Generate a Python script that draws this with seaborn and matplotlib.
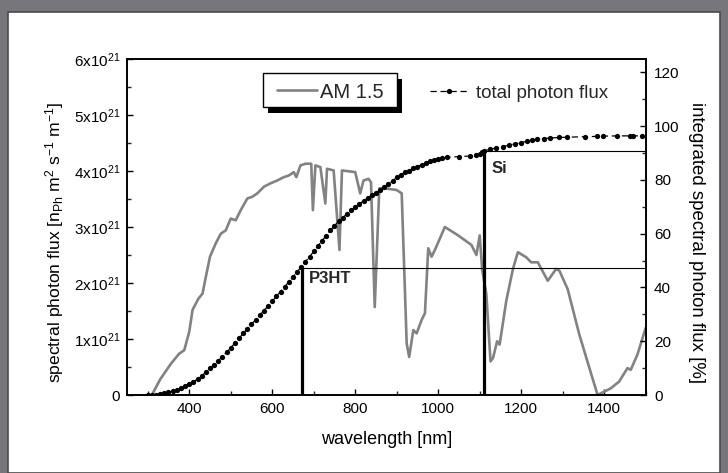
import numpy as np
import pandas as pd
import matplotlib
matplotlib.use("Agg")
import matplotlib.pyplot as plt
import seaborn as sns
from matplotlib.patches import Rectangle
from matplotlib.ticker import FixedLocator, MultipleLocator

# ---------------- data ----------------
am_wl = [310, 330, 356, 376, 388, 400, 408, 422, 432, 440, 450, 464, 476, 488, 500, 512,
         524, 540, 552, 564, 580, 596, 612, 628, 640, 652, 658, 668, 680, 694, 698, 704,
         716, 728, 732, 748, 762, 768, 800, 812, 820, 832, 838, 847, 858, 872, 900, 912,
         924, 930, 940, 948, 960, 968, 976, 984, 992, 1016, 1048, 1080, 1092, 1100, 1106,
         1116, 1126, 1132, 1142, 1148, 1164, 1180, 1192, 1212, 1224, 1240, 1264, 1284,
         1292, 1312, 1340, 1384, 1392, 1416, 1436, 1456, 1464, 1480, 1500]
am_flux = [0.0, 0.28, 0.56, 0.74, 0.80, 1.13, 1.52, 1.72, 1.81, 2.11, 2.47, 2.71, 2.88, 2.94,
           3.15, 3.12, 3.30, 3.51, 3.54, 3.60, 3.72, 3.78, 3.83, 3.89, 3.92, 3.98, 3.89,
           4.10, 4.13, 4.13, 3.30, 4.10, 4.07, 3.42, 4.04, 4.01, 2.59, 4.01, 3.98, 3.60,
           3.83, 3.86, 3.80, 1.57, 3.69, 3.69, 3.66, 3.60, 0.92, 0.68, 1.16, 1.10, 1.34,
           1.46, 2.62, 2.47, 2.59, 3.00, 2.85, 2.68, 2.50, 2.85, 2.23, 1.80, 0.60, 0.66,
           0.96, 0.90, 1.68, 2.25, 2.55, 2.46, 2.37, 2.37, 2.04, 2.25, 2.22, 1.89, 1.08,
           0.00, 0.03, 0.12, 0.24, 0.48, 0.45, 0.72, 1.20]  # units of 1e21

cum_wl = [300, 310, 320, 330, 340, 350, 360, 370, 380, 390, 400, 410, 420, 430, 440, 450,
          460, 470, 480, 490, 500, 510, 520, 530, 540, 550, 560, 570, 580, 590, 600, 610,
          620, 630, 640, 650, 660, 670, 680, 690, 700, 710, 720, 730, 740, 750, 760, 770,
          780, 790, 800, 810, 820, 830, 840, 850, 860, 870, 880, 890, 900, 910, 920, 930,
          940, 950, 960, 970, 980, 990, 1000, 1010, 1020, 1050, 1076, 1092, 1100, 1106,
          1110, 1125, 1140, 1156, 1170, 1185, 1200, 1214, 1226, 1238, 1255, 1269, 1290,
          1310, 1354, 1383, 1397, 1431, 1462, 1469, 1490]
cum_pct = [0.0, 0.05, 0.15, 0.35, 0.6, 1.0, 1.4, 1.9, 2.5, 3.2, 4.0, 4.9, 5.9, 7.1, 8.5, 9.9,
           11.3, 12.8, 14.3, 15.9, 17.6, 19.3, 21.1, 22.9, 24.6, 26.3, 28.0, 29.7, 31.4, 33.1,
           34.9, 36.7, 38.5, 40.3, 42.1, 43.9, 45.8, 47.7, 49.6, 51.5, 53.4, 55.4, 57.4, 59.3,
           61.2, 63.0, 64.6, 66.0, 67.4, 68.7, 70.0, 71.1, 72.2, 73.3, 74.4, 75.2, 76.3, 77.4,
           78.5, 79.6, 81.0, 82.0, 82.8, 83.5, 84.3, 85.0, 85.7, 86.3, 86.9, 87.5, 87.8, 88.1,
           88.4, 88.7, 88.9, 89.3, 89.7, 90.4, 90.8, 91.4, 91.9, 92.4, 92.9, 93.4, 93.9, 94.4,
           94.8, 95.1, 95.4, 95.6, 95.8, 95.9, 96.1, 96.2, 96.3, 96.4, 96.4, 96.4, 96.4]

left_ticks = [0, 1, 2, 3, 4, 5, 6]
left_tick_labels = ["0", r"$1\mathrm{x}10^{21}$", r"$2\mathrm{x}10^{21}$", r"$3\mathrm{x}10^{21}$",
                    r"$4\mathrm{x}10^{21}$", r"$5\mathrm{x}10^{21}$", r"$6\mathrm{x}10^{21}$"]
right_ticks = [0, 20, 40, 60, 80, 100, 120]
x_ticks = [400, 600, 800, 1000, 1200, 1400]

p3ht_edge, p3ht_pct = 672, 47.1
si_edge, si_pct = 1111, 90.8

# ---------------- style ----------------
sns.set_theme(style="white")
plt.rcParams['font.family'] = ['Liberation Sans', 'DejaVu Sans']
plt.rcParams['mathtext.fontset'] = 'custom'
plt.rcParams['mathtext.rm'] = 'Liberation Sans'
plt.rcParams['mathtext.it'] = 'Liberation Sans:italic'
plt.rcParams['mathtext.bf'] = 'Liberation Sans:bold'

W, H = 728, 473
fig = plt.figure(figsize=(W / 100, H / 100), dpi=100, facecolor='#77777b')
fig.patches.append(Rectangle((8 / W, 0), (720 - 8) / W, (H - 12) / H, transform=fig.transFigure,
                             facecolor='white', edgecolor='#4a4a4a', lw=1.2, zorder=-5))

ax = fig.add_axes([127 / W, 1 - 395 / H, (645.7 - 127) / W, (395 - 59) / H])
ax2 = ax.twinx()
ax.set_facecolor('white')
ax2.set_facecolor('none')

df_am = pd.DataFrame({'wl': am_wl, 'flux': am_flux})
df_cum = pd.DataFrame({'wl': cum_wl, 'pct': cum_pct})

sns.lineplot(data=df_am, x='wl', y='flux', ax=ax, color='#828282', lw=1.9,
             estimator=None, sort=False, label='AM 1.5')
sns.lineplot(data=df_cum, x='wl', y='pct', ax=ax2, color='black', lw=0.9,
             linestyle=(0, (5, 3)), marker='o', markersize=3.8, markeredgewidth=0,
             markeredgecolor='black', markerfacecolor='black',
             estimator=None, sort=False, label='total photon flux')
for a in (ax, ax2):
    lg = a.get_legend()
    if lg is not None:
        lg.remove()

# threshold lines
ax2.plot([p3ht_edge, p3ht_edge], [0, p3ht_pct], color='black', lw=2.3, solid_capstyle='butt')
ax2.plot([p3ht_edge, 1500], [p3ht_pct, p3ht_pct], color='black', lw=0.8)
ax2.plot([si_edge, si_edge], [0, si_pct], color='black', lw=2.3, solid_capstyle='butt')
ax2.plot([si_edge, 1500], [si_pct, si_pct], color='black', lw=0.8)
ax2.text(689, 46.2, 'P3HT', fontsize=12, fontweight='bold', va='top', ha='left')
ax2.text(1128, 87.2, 'Si', fontsize=12, fontweight='bold', va='top', ha='left')

# axes limits & ticks
ax.set_xlim(250, 1500)
ax.set_ylim(0, 6)
ax2.set_ylim(0, 125)
ax.xaxis.set_major_locator(FixedLocator(x_ticks))
ax.xaxis.set_minor_locator(MultipleLocator(100))
ax.yaxis.set_major_locator(FixedLocator(left_ticks))
ax.set_yticklabels(left_tick_labels)
ax.yaxis.set_minor_locator(MultipleLocator(0.5))
ax2.yaxis.set_major_locator(FixedLocator(right_ticks))
ax2.yaxis.set_minor_locator(MultipleLocator(10))

ax.tick_params(axis='both', which='major', direction='in', length=4, width=1, labelsize=11,
               pad=5, colors='black', top=False, right=False, bottom=True, left=True)
ax.tick_params(axis='both', which='minor', direction='in', length=3, width=1,
               top=False, right=False, bottom=True, left=True)
ax2.tick_params(axis='y', which='major', direction='in', length=4, width=1, labelsize=11,
                pad=6, colors='black', left=False, right=True)
ax2.tick_params(axis='y', which='minor', direction='in', length=3, width=1, left=False, right=True)

for a in (ax, ax2):
    for s in a.spines.values():
        s.set_color('black')
        s.set_linewidth(1.2)

ax.set_xlabel('wavelength [nm]', fontsize=13, labelpad=11, color='black')
ax.set_ylabel(r'spectral photon flux [n$_{\mathrm{Ph}}$ m$^{2}$ s$^{-1}$ m$^{-1}$]',
              fontsize=12.6, color='black', va='center')
ax.yaxis.set_label_coords((55 - 127) / 518.7, 0.455)
ax2.set_ylabel('integrated spectral photon flux [%]', fontsize=13.4, rotation=270,
               va='center', color='black')
ax2.yaxis.set_label_coords((697 - 127) / 518.7, 0.455)

# legend frame with black drop shadow (AM 1.5)
fig.patches.append(Rectangle((268 / W, 1 - 113 / H), 134 / W, 34 / H, transform=fig.transFigure,
                             facecolor='black', edgecolor='none', zorder=10))
fig.patches.append(Rectangle((263 / W, 1 - 107 / H), 134 / W, 34 / H, transform=fig.transFigure,
                             facecolor='white', edgecolor='black', lw=1.0, zorder=11))

h_am = ax.get_lines()[0]
h_cum = ax2.get_lines()[0]
leg1 = fig.legend(handles=[h_am], labels=['AM 1.5'], loc='center left',
                  bbox_to_anchor=(277 / W, 1 - 92 / H), bbox_transform=fig.transFigure,
                  borderaxespad=0, frameon=False, fontsize=14.5,
                  handlelength=2.0, handletextpad=0.15, borderpad=0)
leg1.set_zorder(12)
leg2 = fig.legend(handles=[h_cum], labels=['total photon flux'], loc='center left',
                  bbox_to_anchor=(430 / W, 1 - 93 / H), bbox_transform=fig.transFigure,
                  borderaxespad=0, frameon=False, fontsize=13.5, handlelength=2.0,
                  handletextpad=0.45, borderpad=0)
leg2.set_zorder(12)

fig.savefig('out.png', dpi=100, facecolor=fig.get_facecolor())
